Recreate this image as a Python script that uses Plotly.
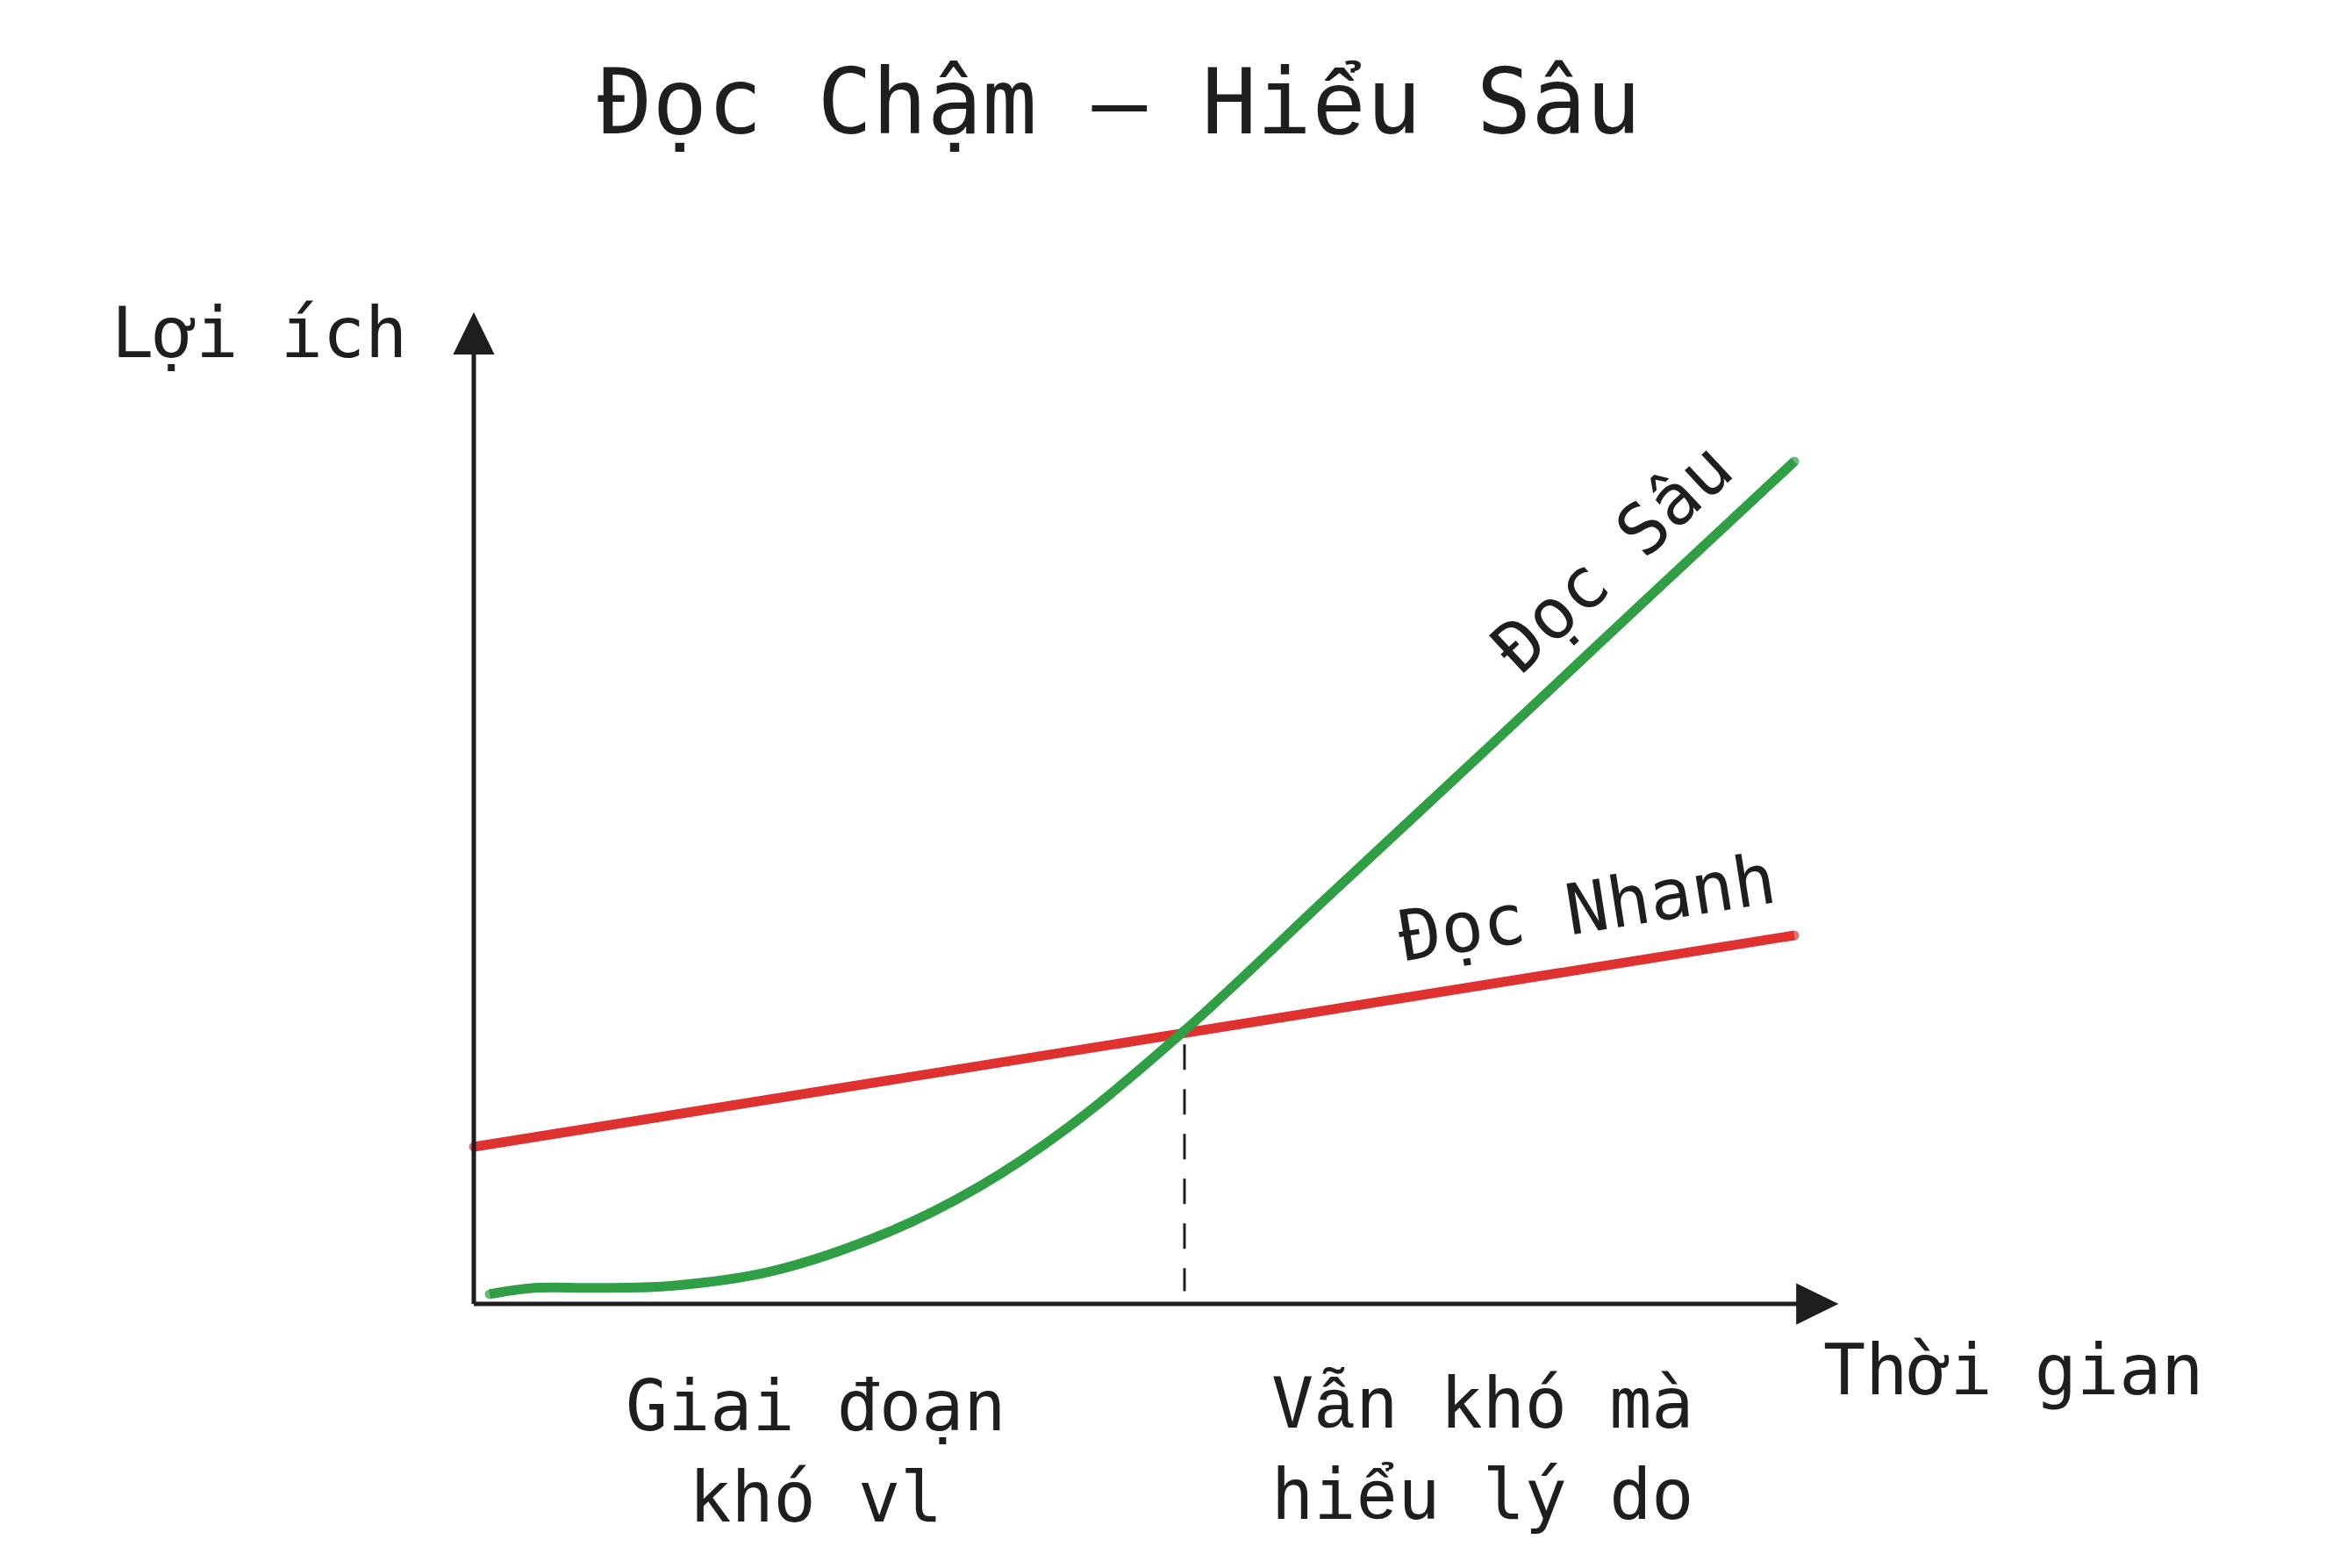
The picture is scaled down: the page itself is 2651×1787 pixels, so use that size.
import plotly.graph_objects as go

# ---- data ----
time_fast = [0.0, 10.0]
benefit_fast = [1.865, 4.375]

time_deep = [0.12, 0.456, 0.906, 1.467, 2.254, 3.152, 3.826, 4.50, 5.38, 6.50, 7.70, 8.85, 10.0]
benefit_deep = [0.115, 0.19, 0.19, 0.21, 0.386, 0.86, 1.39, 2.095, 3.24, 4.88, 6.63, 8.32, 10.0]

crossover_x = [5.382, 5.382]
crossover_y = [3.08, 0.15]

x_axis_end = 10.32
y_axis_end = 11.75

INK = "#1e1e1e"
GREEN = "#2f9e44"
RED = "#e03131"
FONT = "DejaVu Sans Mono"
ALT = "Liberation Mono"

W, H = 2651, 1787
# canvas scale: data units -> pixels
PX_X, PX_Y = 150.5, 96.0
ORIGIN_PX = (540, 1486)
x_range = [-ORIGIN_PX[0] / PX_X, (W - ORIGIN_PX[0]) / PX_X]
y_range = [-(H - ORIGIN_PX[1]) / PX_Y, ORIGIN_PX[1] / PX_Y]


def end_caps(n, size):
    return [size] + [0] * (n - 2) + [size]


def vn(ch):
    # stacked Vietnamese diacritics drawn with a font that has the precomposed glyph
    return f'<span style="font-family:\'{ALT}\'">{ch}</span>'


fig = go.Figure()

# dashed guide at the crossover point
fig.add_trace(go.Scatter(
    x=crossover_x, y=crossover_y, mode="lines",
    line=dict(color=INK, width=3, dash="29px,22px"),
    hoverinfo="skip", showlegend=False,
))

# fast reading: straight line
fig.add_trace(go.Scatter(
    x=time_fast, y=benefit_fast, mode="lines+markers",
    line=dict(color=RED, width=11),
    marker=dict(color=RED, size=end_caps(len(time_fast), 11), line=dict(width=0)),
    hoverinfo="skip", showlegend=False,
))

# deep reading: slow start, then steep growth
fig.add_trace(go.Scatter(
    x=time_deep, y=benefit_deep, mode="lines+markers",
    line=dict(color=GREEN, width=11, shape="spline", smoothing=1.0),
    marker=dict(color=GREEN, size=end_caps(len(time_deep), 11), line=dict(width=0)),
    hoverinfo="skip", showlegend=False,
))

# axes drawn as arrows
ax_w = 5
shapes = [
    dict(type="line", x0=0, y0=0, x1=x_axis_end - 0.3, y1=0,
         line=dict(color=INK, width=ax_w)),
    dict(type="line", x0=0, y0=0, x1=0, y1=y_axis_end - 0.47,
         line=dict(color=INK, width=ax_w)),
]
ah_x = 22 / PX_X
ah_y = 22 / PX_Y
shapes.append(dict(
    type="path",
    path=f"M {x_axis_end - 45 / PX_X},{-ah_y} L {x_axis_end},0 L {x_axis_end - 45 / PX_X},{ah_y} Z",
    fillcolor=INK, line=dict(color=INK, width=2),
))
shapes.append(dict(
    type="path",
    path=f"M {-ah_x},{y_axis_end - 45 / PX_Y} L 0,{y_axis_end} L {ah_x},{y_axis_end - 45 / PX_Y} Z",
    fillcolor=INK, line=dict(color=INK, width=2),
))


def label(text, x, y, size=80, angle=0, xanchor="center"):
    return dict(text=text, x=x, y=y, xref="x", yref="y", showarrow=False,
                xanchor=xanchor, yanchor="middle", textangle=angle,
                font=dict(family=FONT, size=size, color=INK))


annotations = [
    label(f"Đọc Chậm – Hi{vn('ể')}u Sâu", 4.884, 14.24, size=104),
    label("Lợi ích", -1.625, 11.53),
    label("Thời gian", 11.66, -0.79),
    label("Giai đoạn<br>khó vl", 2.59, -1.75),
    label(f"V{vn('ẫ')}n khó mà<br>hi{vn('ể')}u lý do", 7.64, -1.75),
    label("Đọc Sâu", 8.62, 8.86, angle=-43),
    label("Đọc Nhanh", 8.43, 4.70, angle=-9),
]

fig.update_layout(
    width=W, height=H,
    margin=dict(l=0, r=0, t=0, b=0),
    paper_bgcolor="white", plot_bgcolor="white",
    xaxis=dict(range=x_range, visible=False, fixedrange=True),
    yaxis=dict(range=y_range, visible=False, fixedrange=True),
    shapes=shapes,
    annotations=annotations,
    showlegend=False,
)

fig.write_html("out.html", config={"displayModeBar": False})
